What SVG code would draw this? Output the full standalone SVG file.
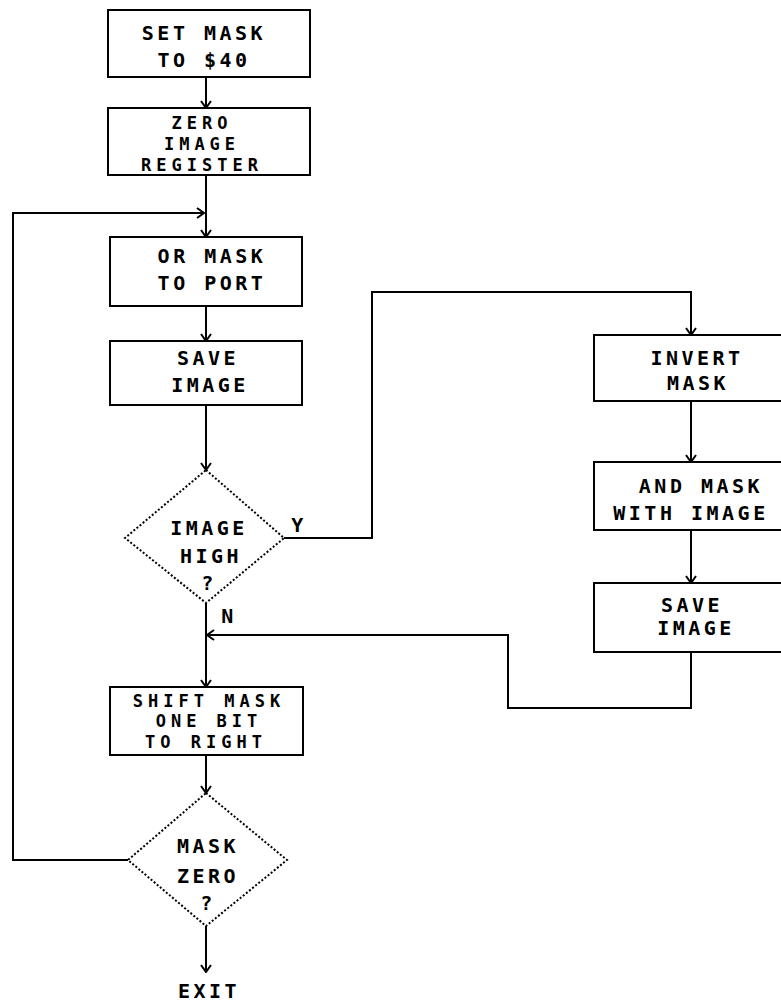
<svg xmlns="http://www.w3.org/2000/svg" width="781" height="1001" viewBox="0 0 781 1001">
<style>
  .box { fill: #fff; stroke: #000; stroke-width: 2; }
  .dia { fill: #fff; stroke: #000; stroke-width: 2; stroke-dasharray: 2 2; }
  .conn { fill: none; stroke: #000; stroke-width: 2; }
  text { font-family: "DejaVu Sans Mono", "Liberation Mono", monospace; font-size: 20px; font-weight: bold; letter-spacing: 3.5px; text-anchor: middle; fill: #000; }
  text.tight { font-size: 17px; letter-spacing: 5px; }
</style>
<defs>
  <marker id="arr" viewBox="0 0 12 12" refX="11" refY="6" markerWidth="12" markerHeight="12" markerUnits="userSpaceOnUse" orient="auto">
    <path d="M4,1 L11,6 L4,11" fill="none" stroke="#000" stroke-width="2"/>
  </marker>
</defs>
<rect width="781" height="1001" fill="#fff"/>
<g id="connectors">
  <path class="conn" d="M206,77 V108" marker-end="url(#arr)"/>
  <path class="conn" d="M206,175 V237" marker-end="url(#arr)"/>
  <path class="conn" d="M128,860 H13 V213 H204" marker-end="url(#arr)"/>
  <path class="conn" d="M206,306 V341" marker-end="url(#arr)"/>
  <path class="conn" d="M206,405 V470" marker-end="url(#arr)"/>
  <path class="conn" d="M284,538 H372 V292 H691 V335" marker-end="url(#arr)"/>
  <path class="conn" d="M691,401 V462" marker-end="url(#arr)"/>
  <path class="conn" d="M691,530 V583" marker-end="url(#arr)"/>
  <path class="conn" d="M691,652 V708 H508 V635 H207" marker-end="url(#arr)"/>
  <path class="conn" d="M206,603 V687" marker-end="url(#arr)"/>
  <path class="conn" d="M206,755 V793" marker-end="url(#arr)"/>
  <path class="conn" d="M206,926 V972" marker-end="url(#arr)"/>
</g>
<g id="set-mask">
  <rect class="box" x="108" y="10" width="202" height="67"/>
  <text x="204" y="40">SET MASK</text>
  <text x="204" y="67">TO $40</text>
</g>
<g id="zero-image">
  <rect class="box" x="108" y="108" width="202" height="67"/>
  <text class="tight" x="202" y="129">ZERO</text>
  <text class="tight" x="202" y="150">IMAGE</text>
  <text class="tight" x="202" y="171">REGISTER</text>
</g>
<g id="or-mask">
  <rect class="box" x="110" y="237" width="192" height="69"/>
  <text x="212" y="263">OR MASK</text>
  <text x="212" y="290">TO PORT</text>
</g>
<g id="save-image-1">
  <rect class="box" x="110" y="341" width="192" height="64"/>
  <text x="208" y="365">SAVE</text>
  <text x="210" y="392">IMAGE</text>
</g>
<g id="image-high">
  <polygon class="dia" points="206,470 284,538 206,603 125,538"/>
  <text x="209" y="535">IMAGE</text>
  <text x="211" y="563">HIGH</text>
  <text x="209" y="590">?</text>
  <text x="299" y="532">Y</text>
  <text x="229" y="623">N</text>
</g>
<g id="invert-mask">
  <rect class="box" x="594" y="335" width="200" height="66"/>
  <text x="697" y="365">INVERT</text>
  <text x="698" y="390">MASK</text>
</g>
<g id="and-mask">
  <rect class="box" x="594" y="462" width="200" height="68"/>
  <text x="701" y="493">AND MASK</text>
  <text x="691" y="520">WITH IMAGE</text>
</g>
<g id="save-image-2">
  <rect class="box" x="594" y="583" width="200" height="69"/>
  <text x="692" y="612">SAVE</text>
  <text x="696" y="635">IMAGE</text>
</g>
<g id="shift-mask">
  <rect class="box" x="110" y="687" width="193" height="68"/>
  <text class="tight" x="209" y="707">SHIFT MASK</text>
  <text class="tight" x="209" y="727">ONE BIT</text>
  <text class="tight" x="206" y="748">TO RIGHT</text>
</g>
<g id="mask-zero">
  <polygon class="dia" points="206,793 287,860 206,926 128,860"/>
  <text x="208" y="853">MASK</text>
  <text x="208" y="883">ZERO</text>
  <text x="208" y="910">?</text>
</g>
<g id="exit">
  <text x="209" y="998">EXIT</text>
</g>
</svg>
